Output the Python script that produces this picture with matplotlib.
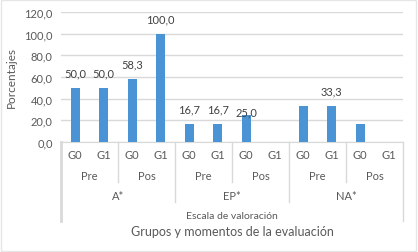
import matplotlib.pyplot as plt

# datos
escalas = ["A*", "EP*", "NA*"]
momentos = ["Pre", "Pos"]
grupos = ["G0", "G1"]
valores = [50.0, 50.0, 58.3, 100.0, 16.7, 16.7, 25.0, 0.0, 33.3, 33.3, 16.7, 0.0]
etiquetas = ["50,0", "50,0", "58,3", "100,0", "16,7", "16,7", "25,0", None, None, "33,3", None, None]

plt.rcParams['font.family'] = ['Lato', 'DejaVu Sans']
gris = '#595959'
linea = '#d9d9d9'

fig = plt.figure(figsize=(4.18, 2.53), dpi=100)
ax = fig.add_axes([61/418, 1-143/253, (403-61)/418, 130/253])

x = list(range(len(valores)))
ax.bar(x, valores, width=0.32, color='#4a94d6', zorder=3)
for i, (v, t) in enumerate(zip(valores, etiquetas)):
    if t is None:
        continue
    off = -1.5 if t == "25,0" else 6.5
    ax.annotate(t, (i, v), xytext=(0, off), textcoords='offset points',
                ha='center', va='bottom', fontsize=8, color='#404040', zorder=4)

ax.set_xlim(-0.5, 11.5)
ax.set_ylim(0, 120)
ax.set_yticks(range(0, 121, 20))
ax.set_yticklabels([f"{t},0" for t in range(0, 121, 20)], fontsize=8, color=gris)
ax.yaxis.grid(True, color=linea, linewidth=1, zorder=0)
ax.tick_params(axis='y', length=0, pad=6)
ax.tick_params(axis='x', length=0, labelbottom=False)
for s in ['top', 'right', 'left']:
    ax.spines[s].set_visible(False)
ax.spines['bottom'].set_color(linea)
ax.set_ylabel("Porcentajes", fontsize=8.5, color=gris, labelpad=5)

tr = ax.get_xaxis_transform()
def fy(p):
    return (143 - p) / 130

k = 0
for e, esc in enumerate(escalas):
    for m, mom in enumerate(momentos):
        for g in grupos:
            ax.text(k, fy(156), g, transform=tr, ha='center', va='center', fontsize=8, color=gris)
            k += 1
        ax.text(e*4 + m*2 + 0.5, fy(177), mom, transform=tr, ha='center', va='center', fontsize=8, color=gris)
    ax.text(e*4 + 1.5, fy(197), esc, transform=tr, ha='center', va='center', fontsize=8, color=gris)

# separadores
for xs in [1.5, 5.5, 9.5]:
    ax.plot([xs, xs], [0, fy(183)], transform=tr, color=linea, lw=1, clip_on=False)
for xs in [3.5, 7.5]:
    ax.plot([xs, xs], [0, fy(203)], transform=tr, color=linea, lw=1, clip_on=False)
ax.plot([-0.5, -0.5], [0, fy(222)], transform=tr, color=linea, lw=2, clip_on=False)
ax.plot([11.5, 11.5], [0, fy(222)], transform=tr, color=linea, lw=1, clip_on=False)

ax.text(5.5, fy(217), "Escala de valoración", transform=tr, ha='center', va='center', fontsize=7.5, color=gris)
ax.text(5.5, fy(232), "Grupos y momentos de la evaluación", transform=tr, ha='center', va='center', fontsize=9, color=gris)

fig.patches.append(plt.Rectangle((0.002, 0.004), 0.994, 0.992, transform=fig.transFigure,
                                 fill=False, edgecolor='#e6e6e6', lw=1))

fig.savefig("out.png", dpi=100)
